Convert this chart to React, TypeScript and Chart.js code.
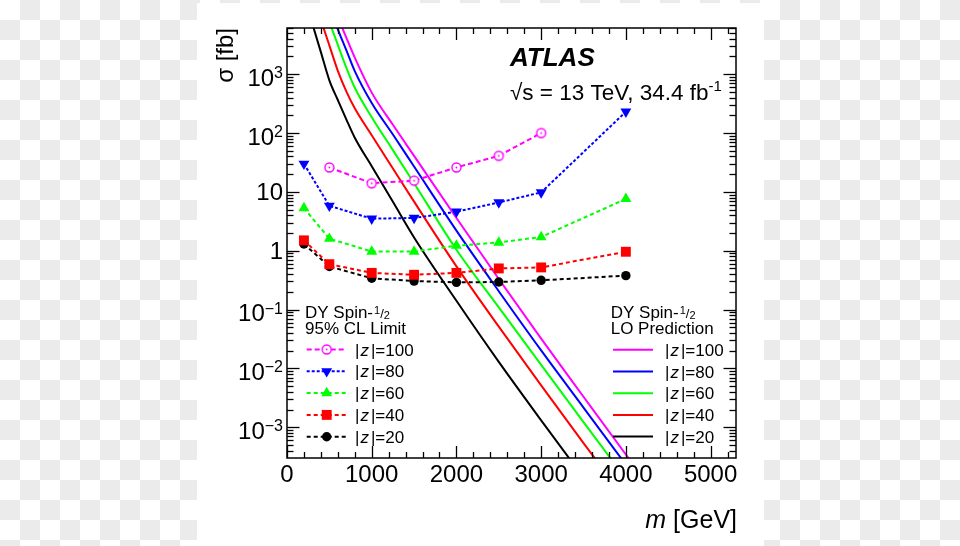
import React, { useEffect, useRef } from "react";
import { Chart, registerables } from "chart.js";

Chart.register(...registerables);

const FONT = '"Liberation Sans", Arial, Helvetica, sans-serif';

// ---- 95% CL limits (sigma in fb) ----
const limitMass = [200, 500, 1000, 1500, 2000, 2500, 3000, 4000];
const limitMassZ100 = [500, 1000, 1500, 2000, 2500, 3000];
const limitZ100 = [26, 14, 15.5, 26, 41, 100];
const limitZ80 = [30, 5.8, 3.5, 3.6, 4.6, 6.6, 9.8, 230];
const limitZ60 = [5.3, 1.6, 0.97, 0.97, 1.22, 1.38, 1.71, 7.6];
const limitZ40 = [1.5, 0.59, 0.42, 0.39, 0.42, 0.5, 0.52, 0.96];
const limitZ20 = [1.3, 0.54, 0.34, 0.305, 0.29, 0.294, 0.314, 0.377];

// ---- LO predictions (sigma in fb) ----
const predMass = [200, 300, 400, 500, 600, 700, 800, 1000, 1250, 1500, 2000, 2500, 3000, 3500, 4000, 4500];
const predZ100 = [490000, 170000, 63100, 23400, 9420, 4190, 1910, 486, 138, 40.9, 3.6, 0.331, 0.032, 0.0033, 0.000344, 0.0000385];
const predZ80 = [275000, 97700, 36300, 13800, 5780, 2560, 1130, 324, 94.4, 27.0, 2.2, 0.205, 0.0202, 0.00216, 0.000231, 0.0000257];
const predZ60 = [182000, 60300, 20900, 7760, 3160, 1290, 587, 185, 51.2, 14.0, 1.04, 0.109, 0.0115, 0.00122, 0.000133, 0.0000148];
const predZ40 = [79400, 24500, 8410, 3090, 1140, 512, 264, 91.6, 25.0, 6.82, 0.542, 0.0512, 0.00513, 0.000537, 0.0000594, 0.0000066];
const predZ20 = [22400, 7140, 2370, 787, 364, 171, 83.2, 27.3, 6.78, 1.68, 0.141, 0.0129, 0.00131, 0.000139, 0.0000158, 0.0000018];

// ---- axes ----
const X_MIN = 0;
const X_MAX = 5300;
const Y_MIN = Math.pow(10, -3.5);
const Y_MAX = Math.pow(10, 3.785);
const xTickValues = [0, 1000, 2000, 3000, 4000, 5000];
const xTickLabels = ["0", "1000", "2000", "3000", "4000", "5000"];
const yDecades = [-3, -2, -1, 0, 1, 2, 3];
const yDecadeBase = ["10", "10", "10", "1", "10", "10", "10"];
const yDecadeExp = ["\u22123", "\u22122", "\u22121", "", "", "2", "3"];
const zLabels = ["100", "80", "60", "40", "20"];
const colors = ["#ff00ff", "#0000ff", "#00ff00", "#ff0000", "#000000"];

function makeOpenCircle(color: string): HTMLCanvasElement {
  const c = document.createElement("canvas");
  c.width = 13;
  c.height = 13;
  const g = c.getContext("2d")!;
  g.strokeStyle = color;
  g.fillStyle = "#ffffff";
  g.lineWidth = 1.4;
  g.beginPath();
  g.arc(6.5, 6.5, 4.5, 0, Math.PI * 2);
  g.fill();
  g.stroke();
  g.fillStyle = color;
  g.beginPath();
  g.arc(6.5, 6.5, 0.9, 0, Math.PI * 2);
  g.fill();
  return c;
}

type Marker = "openCircle" | "triDown" | "triUp" | "square" | "circle";
const limitMarkers: Marker[] = ["openCircle", "triDown", "triUp", "square", "circle"];
const limitDashes = [[5, 3], [3, 2], [4, 3], [4, 3], [4, 3]];
const TRI_R = 6.3;
const SQ_R = 7;
const CIRC_R = 4.7;

function drawMarker(ctx: CanvasRenderingContext2D, kind: Marker, x: number, y: number, color: string, img: HTMLCanvasElement) {
  ctx.save();
  ctx.setLineDash([]);
  ctx.fillStyle = color;
  ctx.beginPath();
  if (kind === "openCircle") {
    ctx.drawImage(img, x - img.width / 2, y - img.height / 2);
  } else if (kind === "circle") {
    ctx.arc(x, y, CIRC_R, 0, Math.PI * 2);
    ctx.fill();
  } else if (kind === "square") {
    const s = SQ_R * Math.SQRT1_2;
    ctx.rect(x - s, y - s, 2 * s, 2 * s);
    ctx.fill();
  } else {
    const r = TRI_R;
    const d = kind === "triUp" ? 1 : -1;
    ctx.moveTo(x, y - d * r);
    ctx.lineTo(x + r * 0.866, y + d * r * 0.5);
    ctx.lineTo(x - r * 0.866, y + d * r * 0.5);
    ctx.closePath();
    ctx.fill();
  }
  ctx.restore();
}

function drawZLabel(ctx: CanvasRenderingContext2D, x: number, y: number, val: string) {
  ctx.save();
  ctx.fillStyle = "#000";
  ctx.textAlign = "left";
  ctx.textBaseline = "alphabetic";
  ctx.font = `17px ${FONT}`;
  ctx.fillText("|", x, y);
  let cx = x + ctx.measureText("|").width + 1;
  ctx.font = `italic 17px ${FONT}`;
  ctx.fillText("z", cx, y);
  cx += ctx.measureText("z").width + 2;
  ctx.font = `17px ${FONT}`;
  ctx.fillText("|=" + val, cx, y);
  ctx.restore();
}

function drawSpinHeader(ctx: CanvasRenderingContext2D, x: number, y: number, second: string) {
  ctx.save();
  ctx.fillStyle = "#000";
  ctx.textAlign = "left";
  ctx.textBaseline = "alphabetic";
  ctx.font = `17px ${FONT}`;
  ctx.fillText("DY Spin-", x, y);
  let cx = x + ctx.measureText("DY Spin-").width + 1;
  ctx.font = `11px ${FONT}`;
  ctx.fillText("1", cx, y - 4);
  cx += ctx.measureText("1").width;
  ctx.font = `13px ${FONT}`;
  ctx.fillText("/", cx, y);
  cx += ctx.measureText("/").width;
  ctx.font = `11px ${FONT}`;
  ctx.fillText("2", cx, y + 1);
  ctx.font = `17px ${FONT}`;
  ctx.fillText(second, x, y + 16);
  ctx.restore();
}

export default function App() {
  const ref = useRef<HTMLCanvasElement | null>(null);

  useEffect(() => {
    const canvas = ref.current;
    if (!canvas) return;
    const openCircle = makeOpenCircle(colors[0]);

    const limitMassSets = [limitMassZ100, limitMass, limitMass, limitMass, limitMass];
    const limitValueSets = [limitZ100, limitZ80, limitZ60, limitZ40, limitZ20];
    const predSets = [predZ100, predZ80, predZ60, predZ40, predZ20];

    const limitDatasets = limitValueSets.map((vals, i) => {
      const m = limitMarkers[i];
      const base: any = {
        label: "limit |z|=" + zLabels[i],
        data: limitMassSets[i].map((x, j) => ({ x, y: vals[j] })),
        borderColor: colors[i],
        borderWidth: 2,
        borderDash: limitDashes[i],
        fill: false,
        tension: 0,
        pointBackgroundColor: colors[i],
        pointBorderColor: colors[i],
        pointBorderWidth: 0,
      };
      if (m === "openCircle") {
        base.pointStyle = openCircle;
        base.pointRadius = 5;
      } else if (m === "circle") {
        base.pointStyle = "circle";
        base.pointRadius = CIRC_R;
      } else if (m === "square") {
        base.pointStyle = "rect";
        base.pointRadius = SQ_R;
      } else {
        base.pointStyle = "triangle";
        base.pointRadius = TRI_R;
        base.pointRotation = m === "triDown" ? 180 : 0;
      }
      return base;
    });

    const predDatasets = predSets.map((vals, i) => ({
      label: "pred |z|=" + zLabels[i],
      data: predMass.map((x, j) => ({ x, y: vals[j] })),
      borderColor: colors[i],
      borderWidth: 2,
      pointRadius: 0,
      fill: false,
      cubicInterpolationMode: "monotone",
    }));

    const bgPlugin = {
      id: "bgPanel",
      beforeDraw(chart: any) {
        const ctx = chart.ctx as CanvasRenderingContext2D;
        const W = chart.width;
        const H = chart.height;
        ctx.save();
        ctx.fillStyle = "#ffffff";
        ctx.fillRect(0, 0, W, H);
        ctx.fillStyle = "#ebebeb";
        for (let r = 0; r * 20 < H; r++) {
          for (let c = 0; c * 20 < W; c++) {
            if ((r + c) % 2 === 1) ctx.fillRect(c * 20, r * 20, 20, 20);
          }
        }
        ctx.fillStyle = "#ffffff";
        ctx.fillRect(197, 3, 567, H - 3);
        ctx.restore();
      },
    };

    const framePlugin = {
      id: "rootFrame",
      afterDraw(chart: any) {
        const ctx = chart.ctx as CanvasRenderingContext2D;
        const { left, right, top, bottom } = chart.chartArea;
        const xs = chart.scales.x;
        const ys = chart.scales.y;
        ctx.save();
        ctx.strokeStyle = "#000";
        ctx.lineWidth = 1.3;
        ctx.setLineDash([]);
        const seg = (x1: number, y1: number, x2: number, y2: number) => {
          ctx.beginPath();
          ctx.moveTo(x1, y1);
          ctx.lineTo(x2, y2);
          ctx.stroke();
        };
        // x ticks (major each 1000, minor each 200)
        for (let v = X_MIN; v <= X_MAX; v += 200) {
          const px = Math.round(xs.getPixelForValue(v)) + 0.5;
          const len = v % 1000 === 0 ? 12 : 6;
          seg(px, bottom, px, bottom - len);
          seg(px, top, px, top + len);
        }
        // y ticks
        for (let e = -4; e <= 4; e++) {
          for (let k = 1; k <= 9; k++) {
            const v = k * Math.pow(10, e);
            if (v < Y_MIN || v > Y_MAX) continue;
            const py = Math.round(ys.getPixelForValue(v)) + 0.5;
            const len = k === 1 ? 12.5 : 6.5;
            seg(left, py, left + len, py);
            seg(right, py, right - len, py);
          }
        }
        ctx.lineWidth = 1.5;
        ctx.strokeRect(left, top, right - left, bottom - top);

        ctx.fillStyle = "#000";
        // x tick labels
        ctx.font = `24px ${FONT}`;
        ctx.textAlign = "center";
        ctx.textBaseline = "alphabetic";
        xTickValues.forEach((v, i) => {
          ctx.fillText(xTickLabels[i], xs.getPixelForValue(v), 482);
        });
        // y tick labels
        const rightEdge = 283;
        yDecades.forEach((d, i) => {
          const py = ys.getPixelForValue(Math.pow(10, d));
          const exp = yDecadeExp[i];
          if (exp) {
            ctx.font = `16px ${FONT}`;
            ctx.textAlign = "right";
            const ew = ctx.measureText(exp).width;
            ctx.fillText(exp, rightEdge, py + 4);
            ctx.font = `24px ${FONT}`;
            ctx.fillText(yDecadeBase[i], rightEdge - ew, py + 11.5);
          } else {
            ctx.font = `24px ${FONT}`;
            ctx.textAlign = "right";
            ctx.fillText(yDecadeBase[i], rightEdge, py + 8.5);
          }
        });
        // axis titles
        ctx.save();
        ctx.translate(233, 28);
        ctx.rotate(-Math.PI / 2);
        ctx.font = `24px ${FONT}`;
        ctx.textAlign = "right";
        ctx.fillText("\u03c3 [fb]", 0, 0);
        ctx.restore();

        ctx.textAlign = "right";
        ctx.font = `25px ${FONT}`;
        const gev = " [GeV]";
        const gw = ctx.measureText(gev).width;
        ctx.fillText(gev, 737, 528);
        ctx.font = `italic 25px ${FONT}`;
        ctx.fillText("m", 737 - gw, 528);

        // ATLAS label
        ctx.textAlign = "left";
        ctx.font = `italic bold 26px ${FONT}`;
        ctx.fillText("ATLAS", 510, 66);
        ctx.font = `22.5px ${FONT}`;
        const lumi = "\u221as = 13 TeV, 34.4 fb";
        ctx.fillText(lumi, 510, 99.5);
        const lw = ctx.measureText(lumi).width;
        ctx.font = `15px ${FONT}`;
        ctx.fillText("-1", 510 + lw, 91);

        // left legend (limits)
        drawSpinHeader(ctx, 305, 317.5, "95% CL Limit");
        zLabels.forEach((z, i) => {
          const y = 349.5 + i * 21.8;
          ctx.save();
          ctx.strokeStyle = colors[i];
          ctx.lineWidth = 2;
          ctx.setLineDash(limitDashes[i]);
          seg(306.7, y, 346.7, y);
          ctx.restore();
          drawMarker(ctx, limitMarkers[i], 326.7, y, colors[i], openCircle);
          drawZLabel(ctx, 355, y + 6, z);
        });

        // right legend (predictions)
        drawSpinHeader(ctx, 610.7, 318, "LO Prediction");
        zLabels.forEach((z, i) => {
          const y = 349.8 + i * 21.7;
          ctx.save();
          ctx.strokeStyle = colors[i];
          ctx.lineWidth = 2;
          ctx.setLineDash([]);
          seg(613, y, 653, y);
          ctx.restore();
          drawZLabel(ctx, 665, y + 6, z);
        });
        ctx.restore();
      },
    };

    const chart = new Chart(canvas, {
      type: "line",
      data: { datasets: [...limitDatasets, ...predDatasets] as any },
      options: {
        animation: false,
        responsive: false,
        devicePixelRatio: 1,
        layout: { padding: { left: 287, right: 224, top: 28, bottom: 88 } },
        scales: {
          x: { type: "linear", min: X_MIN, max: X_MAX, display: false },
          y: { type: "logarithmic", min: Y_MIN, max: Y_MAX, display: false },
        },
        plugins: {
          legend: { display: false },
          tooltip: { enabled: false },
        },
      },
      plugins: [bgPlugin, framePlugin],
    });

    return () => chart.destroy();
  }, []);

  return (
    <div style={{ position: "absolute", left: 0, top: 0, width: 960, height: 546 }}>
      <canvas ref={ref} width={960} height={546} style={{ display: "block", width: 960, height: 546 }} />
    </div>
  );
}
